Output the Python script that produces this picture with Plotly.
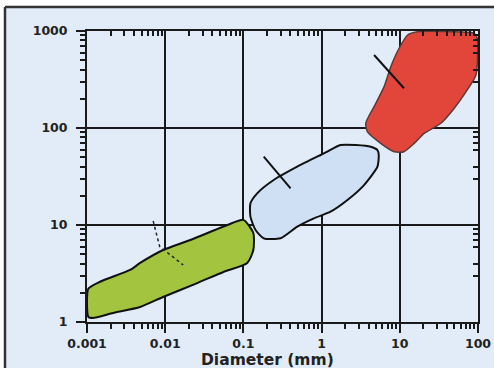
import plotly.graph_objects as go

# Region outlines (diameter mm, y value)
green_x = [0.00104, 0.00104, 0.00147, 0.00356, 0.00478, 0.0094, 0.0209, 0.0624, 0.1, 0.134, 0.134, 0.112, 0.0555, 0.0257, 0.0094, 0.00478, 0.00216, 0.00119, 0.00104]
green_y = [1.13, 2.2, 2.6, 3.44, 4.06, 5.52, 7.0, 10.0, 11.3, 8.27, 5.52, 4.06, 3.28, 2.52, 1.81, 1.43, 1.24, 1.1, 1.13]

blue_x = [5.18, 4.25, 1.75, 1.18, 0.97, 0.488, 0.244, 0.15, 0.123, 0.123, 0.143, 0.182, 0.298, 0.488, 0.796, 1.30, 2.14, 3.49, 5.18, 5.38, 5.18]
blue_y = [59.3, 64.2, 66.8, 57.0, 52.7, 39.9, 29.1, 21.2, 16.7, 12.2, 8.88, 7.29, 7.29, 9.6, 11.7, 13.7, 18.1, 25.8, 39.9, 52.7, 59.3]

red_x = [12.6, 16.9, 45.1, 89.7, 98.0, 94.2, 70.1, 49.7, 33.6, 20.5, 15.3, 11.3, 8.46, 5.7, 3.85, 3.67, 4.69, 6.3, 7.67, 9.8, 12.6]
red_y = [910, 984, 984, 947, 841, 352, 236, 160, 112, 88, 69.5, 57, 57, 69.5, 91.6, 112, 166, 267, 429, 664, 910]

# Pointer lines
red_ptr_x = [4.69, 11.3]
red_ptr_y = [566, 257]
blue_ptr_x = [0.182, 0.401]
blue_ptr_y = [50.6, 23.9]
green_ptr_x = [0.00702, 0.0085, 0.017]
green_ptr_y = [11.0, 6.0, 3.87]

x_ticks = [0.001, 0.01, 0.1, 1, 10, 100]
x_labels = ["0.001", "0.01", "0.1", "1", "10", "100"]
y_ticks = [1, 10, 100, 1000]
y_labels = ["1", "10", "100", "1000"]

BG = "#e1ecf8"
INK = "#1a1a1a"
FONT = "DejaVu Sans, Arial, sans-serif"
fig = go.Figure()

fig.add_trace(go.Scatter(x=green_x, y=green_y, mode="lines", fill="toself",
                         fillcolor="#a2c43e", line=dict(color="#111", width=2, shape="spline", smoothing=0.6)))
fig.add_trace(go.Scatter(x=blue_x, y=blue_y, mode="lines", fill="toself",
                         fillcolor="#cfe0f4", line=dict(color="#111", width=2, shape="spline", smoothing=0.6)))
fig.add_trace(go.Scatter(x=red_x, y=red_y, mode="lines", fill="toself",
                         fillcolor="#e2463b", line=dict(color="#5a3a3a", width=1.5, shape="spline", smoothing=0.6)))

fig.add_trace(go.Scatter(x=red_ptr_x, y=red_ptr_y, mode="lines", line=dict(color="#111", width=2)))
fig.add_trace(go.Scatter(x=blue_ptr_x, y=blue_ptr_y, mode="lines", line=dict(color="#111", width=2)))
fig.add_trace(go.Scatter(x=green_ptr_x, y=green_ptr_y, mode="lines", line=dict(color="#222", width=1.5, dash="dot")))

axis_common = dict(
    type="log", showgrid=True, gridcolor=INK, gridwidth=1.6,
    showline=True, linecolor=INK, linewidth=2, mirror=False,
    ticks="outside", ticklen=9, tickwidth=1.6, tickcolor=INK,
    minor=dict(ticks="outside", dtick="D1", ticklen=5, tickwidth=1.5, tickcolor=INK, showgrid=False),
    tickfont=dict(family=FONT, size=12.5, color="#222", weight="bold"),
    zeroline=False, automargin=False,
)

fig.update_xaxes(range=[-3, 2], tickvals=x_ticks, ticktext=x_labels, **axis_common)
fig.update_yaxes(range=[0, 3], tickvals=y_ticks, ticktext=y_labels, ticklabelstandoff=6, **axis_common)

# top and right frame axes with inward minor ticks
mirror_common = dict(
    type="log", showgrid=False, showline=True, linecolor=INK, linewidth=1.5,
    ticks="", showticklabels=False, zeroline=False, automargin=False,
    minor=dict(ticks="inside", dtick="D1", ticklen=5, tickwidth=1.5, tickcolor=INK, showgrid=False),
)
fig.update_layout(
    xaxis2=dict(overlaying="x", side="top", range=[-3, 2], anchor="y", **mirror_common),
    yaxis2=dict(overlaying="y", side="right", range=[0, 3], anchor="x", **mirror_common),
)
fig.add_trace(go.Scatter(x=[0.01], y=[10], xaxis="x2", yaxis="y2", mode="markers",
                         marker=dict(opacity=0), hoverinfo="skip"))

fig.add_annotation(text="<b>Diameter (mm)</b>", xref="paper", yref="paper",
                   x=(267 - 87) / 391, y=(322 - 360) / 291, showarrow=False,
                   font=dict(family=FONT, size=15.5, color="#222"),
                   xanchor="center", yanchor="middle")

# scanned-page frame: white strips outside, dark edge lines
FX = (5 - 87) / 391
FY = (322 - 7) / 291
fig.add_shape(type="rect", xref="paper", yref="paper", x0=-0.3, x1=1.1, y0=FY, y1=1.2,
              fillcolor="white", line=dict(width=0), layer="below")
fig.add_shape(type="rect", xref="paper", yref="paper", x0=-0.3, x1=FX, y0=-0.3, y1=1.2,
              fillcolor="white", line=dict(width=0), layer="below")
fig.add_shape(type="line", xref="paper", yref="paper", x0=FX, x1=1.1, y0=FY, y1=FY,
              line=dict(color="#333", width=2.5))
fig.add_shape(type="line", xref="paper", yref="paper", x0=FX, x1=FX, y0=FY, y1=-0.3,
              line=dict(color="#333", width=2.5))

fig.update_layout(
    width=494, height=368,
    margin=dict(l=87, r=16, t=31, b=46, autoexpand=False),
    paper_bgcolor=BG, plot_bgcolor=BG,
    showlegend=False, hovermode=False,
)

fig.write_html("out.html", config={"displayModeBar": False},
               post_script="document.body.style.margin='0';document.body.style.overflow='hidden';document.documentElement.style.overflow='hidden';")
